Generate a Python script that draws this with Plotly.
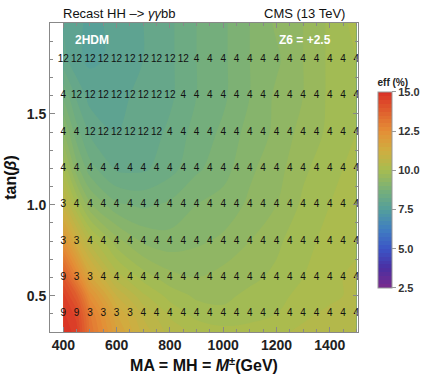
import plotly.graph_objects as go

# ---- efficiency field (eff %) ----
mass_grid = [400, 450, 500, 600, 700, 800, 900, 1000, 1100, 1200, 1300, 1400, 1500]
tanb_grid = [0.3, 0.4, 0.5, 0.6, 0.8, 1.0, 1.2, 1.4, 1.6, 1.8, 2.0]
eff_grid = [
    [15.0, 14.6, 13.2, 11.8, 10.9, 10.4, 10.2, 10.1, 10.1, 10.2, 10.3, 10.4, 10.5],
    [14.8, 14.4, 13.0, 11.5, 10.7, 10.2, 9.9, 9.8, 9.9, 10.0, 10.2, 10.3, 10.4],
    [14.6, 13.8, 12.4, 11.0, 10.3, 9.9, 9.7, 9.7, 9.8, 9.9, 10.1, 10.2, 10.3],
    [14.0, 12.8, 11.6, 10.4, 9.9, 9.6, 9.5, 9.6, 9.7, 9.8, 10.0, 10.2, 10.3],
    [12.3, 11.2, 10.4, 9.6, 9.2, 9.1, 9.2, 9.3, 9.5, 9.7, 9.9, 10.1, 10.2],
    [10.9, 10.0, 9.3, 8.8, 8.7, 8.8, 9.0, 9.1, 9.3, 9.5, 9.8, 10.0, 10.2],
    [10.0, 9.1, 8.6, 8.2, 8.2, 8.4, 8.7, 8.9, 9.2, 9.4, 9.7, 9.9, 10.1],
    [9.3, 8.6, 8.2, 8.0, 8.1, 8.3, 8.6, 8.8, 9.1, 9.3, 9.6, 9.8, 10.0],
    [8.7, 8.2, 7.9, 7.9, 8.1, 8.2, 8.5, 8.7, 9.0, 9.3, 9.5, 9.8, 10.0],
    [8.1, 7.8, 7.7, 7.8, 8.0, 8.2, 8.5, 8.7, 9.0, 9.2, 9.5, 9.8, 10.0],
    [8.0, 7.8, 7.7, 7.8, 8.0, 8.2, 8.5, 8.7, 9.0, 9.3, 9.5, 9.8, 10.1],
]

# ---- labelled grid points ----
label_mass = [400, 450, 500, 550, 600, 650, 700, 750, 800, 850, 900, 950, 1000,
              1050, 1100, 1150, 1200, 1250, 1300, 1350, 1400, 1450, 1500]
label_tanb = [0.4, 0.6, 0.8, 1.0, 1.2, 1.4, 1.6, 1.8]
label_rows = [
    [9, 9, 3, 3, 3, 3, 4, 4, 4, 4, 4, 4, 4, 4, 4, 4, 4, 4, 4, 4, 4, 4, 4],
    [9, 3, 3, 4, 4, 4, 4, 4, 4, 4, 4, 4, 4, 4, 4, 4, 4, 4, 4, 4, 4, 4, 4],
    [3, 3, 4, 4, 4, 4, 4, 4, 4, 4, 4, 4, 4, 4, 4, 4, 4, 4, 4, 4, 4, 4, 4],
    [3, 4, 4, 4, 4, 4, 4, 4, 4, 4, 4, 4, 4, 4, 4, 4, 4, 4, 4, 4, 4, 4, 4],
    [4, 4, 4, 4, 4, 4, 4, 4, 4, 4, 4, 4, 4, 4, 4, 4, 4, 4, 4, 4, 4, 4, 4],
    [4, 4, 12, 12, 12, 12, 12, 12, 4, 4, 4, 4, 4, 4, 4, 4, 4, 4, 4, 4, 4, 4, 4],
    [4, 12, 12, 12, 12, 12, 12, 12, 12, 4, 4, 4, 4, 4, 4, 4, 4, 4, 4, 4, 4, 4, 4],
    [12, 12, 12, 12, 12, 12, 12, 12, 12, 12, 4, 4, 4, 4, 4, 4, 4, 4, 4, 4, 4, 4, 4],
]

x_ticks = [400, 600, 800, 1000, 1200, 1400]
y_ticks = [0.5, 1.0, 1.5]
cbar_ticks = [2.5, 5.0, 7.5, 10.0, 12.5, 15.0]
cbar_labels = ["2.5", "5.0", "7.5", "10.0", "12.5", "15.0"]

rainbow = [
    [0.0, "#7B2A8C"], [0.1, "#4A2FA2"], [0.2, "#3C55C6"], [0.3, "#407FC0"],
    [0.4, "#539E9C"], [0.5, "#78B078"], [0.6, "#A7BC50"], [0.7, "#CFAE40"],
    [0.8, "#E48E36"], [0.9, "#E0602E"], [1.0, "#D93025"],
]

fig = go.Figure()
fig.add_trace(go.Contour(
    x=mass_grid, y=tanb_grid, z=eff_grid,
    colorscale=rainbow, zmin=2.5, zmax=15,
    contours=dict(coloring="fill", showlines=False, start=2.5, end=15, size=0.25),
    line=dict(width=0),
    colorbar=dict(
        x=1.065, xanchor="left", xpad=0, ypad=0, y=0.8285, yanchor="top",
        len=212, lenmode="pixels", thickness=14,
        outlinewidth=1, outlinecolor="#999",
        tickvals=cbar_ticks, ticktext=cbar_labels,
        ticks="outside", ticklen=4, tickcolor="#999",
        tickfont=dict(family="Arial", size=11, color="#333", weight="bold"),
        title=dict(text="eff (%)", side="top",
                   font=dict(family="Arial", size=10, color="#222", weight="bold")),
    ),
    hoverinfo="skip",
))

xs, ys, ts = [], [], []
for yv, row in zip(label_tanb, label_rows):
    for xv, v in zip(label_mass, row):
        xs.append(xv)
        ys.append(yv)
        ts.append(str(v))
fig.add_trace(go.Scatter(
    x=xs, y=ys, text=ts, mode="text", cliponaxis=True,
    textfont=dict(family="Arial", size=10, color="#111"),
    showlegend=False, hoverinfo="skip",
))

axis_common = dict(
    showline=True, linecolor="#888", linewidth=1, mirror="ticks",
    ticks="inside", ticklen=5, tickcolor="#888", showgrid=False, zeroline=False,
    tickfont=dict(family="Arial", size=14, color="#222", weight="bold"),
)
fig.update_xaxes(
    range=[350, 1506], tickvals=x_ticks,
    minor=dict(dtick=50, tick0=400, ticks="inside", ticklen=3, tickcolor="#888"),
    title=dict(text="MA = MH = <i>M</i><sup>±</sup>(GeV)", standoff=8,
               font=dict(family="Arial", size=16, color="#111", weight="bold")),
    **axis_common,
)
fig.update_yaxes(
    range=[0.3, 2.0], tickvals=y_ticks, tickformat=".1f",
    minor=dict(dtick=0.1, tick0=0.3, ticks="inside", ticklen=3, tickcolor="#888"),
    title=dict(text="tan(<i>β</i>)", standoff=6,
               font=dict(family="Arial", size=16, color="#111", weight="bold")),
    **axis_common,
)

fig.add_annotation(text="Recast HH –> <i>γγ</i>bb", xref="paper", yref="paper",
                   x=0.035, y=1.0, xanchor="left", yanchor="bottom", showarrow=False,
                   font=dict(family="Arial", size=13, color="#111"))
fig.add_annotation(text="CMS (13 TeV)", xref="paper", yref="paper",
                   x=0.965, y=1.0, xanchor="right", yanchor="bottom", showarrow=False,
                   font=dict(family="Arial", size=13, color="#111"))
fig.add_annotation(text="2HDM", xref="paper", yref="paper",
                   x=0.075, y=0.945, xanchor="left", yanchor="middle", showarrow=False,
                   font=dict(family="Arial", size=12, color="white", weight="bold"))
fig.add_annotation(text="Z6 = +2.5", xref="paper", yref="paper",
                   x=0.92, y=0.945, xanchor="right", yanchor="middle", showarrow=False,
                   font=dict(family="Arial", size=12, color="white", weight="bold"))

fig.update_layout(
    width=426, height=383,
    margin=dict(l=50, r=68, t=23, b=51, autoexpand=False),
    paper_bgcolor="white", plot_bgcolor="white",
    showlegend=False,
)
fig.write_html(
    "out.html",
    config={"displayModeBar": False, "staticPlot": True},
    post_script="document.body.style.margin='0';document.body.style.padding='0';",
)
